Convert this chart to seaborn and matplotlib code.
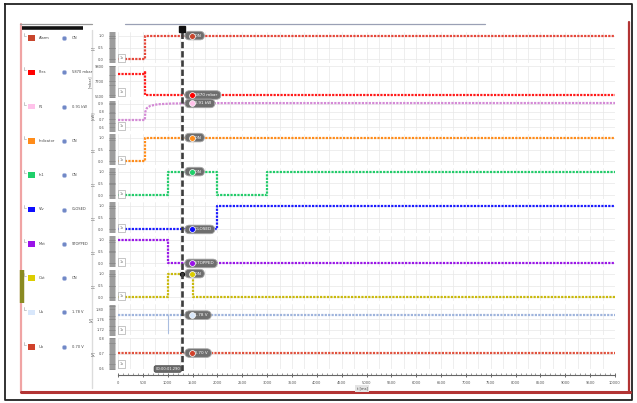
import numpy as np
import matplotlib
matplotlib.use("Agg")
import matplotlib.pyplot as plt
import matplotlib.transforms as mtransforms
from matplotlib.ticker import MultipleLocator, FixedLocator
import seaborn as sns

sns.set_theme(style="white")
plt.rcParams["font.family"] = ["DejaVu Sans"]

# ---- channel data (time in ms) ----
channel_names = ["Alarm", "Pres", "P1", "Indicator", "In1", "Vlv", "Mot", "Out", "Ua", "Ub"]
channel_units = ["[-]", "[mbar]", "[kW]", "[-]", "[-]", "[-]", "[-]", "[-]", "[V]", "[V]"]
line_colors = ["#e5473a", "#ff1a1a", "#d48ad6", "#ff8c1a", "#22cc6a",
               "#1a1aff", "#9a16e8", "#c9b90c", "#9fb4dc", "#e0513d"]
swatch_colors = ["#c8452c", "#ff0000", "#ffc2ea", "#ff8c1a", "#1fcf6a",
                 "#0d0dff", "#9a12e8", "#dccd00", "#d8e7fb", "#d0412b"]

t_alarm = [0, 550, 10000];               v_alarm = [0, 1, 1]
t_pres = [0, 545, 550, 10000];           v_pres = [8720, 9100, 5870, 5870]
t_power = [0, 540, 550, 580, 650, 800, 1100, 2000, 10000]
v_power = [0.692, 0.692, 0.80, 0.845, 0.875, 0.895, 0.905, 0.910, 0.911]
t_ind = [0, 550, 10000];                 v_ind = [0, 1, 1]
t_in1 = [0, 1000, 2000, 3000, 10000];    v_in1 = [0, 1, 0, 1, 1]
t_vlv = [0, 2000, 10000];                v_vlv = [0, 1, 1]
t_mot = [0, 1000, 10000];                v_mot = [1, 0, 0]
t_out = [0, 1000, 1500, 10000];          v_out = [0, 1, 0, 0]
t_ua = [0, 10000];                       v_ua = [1.777, 1.777]
t_ua_glitch = [1000, 1000];              v_ua_glitch = [1.777, 1.708]
t_ub = [0, 10000];                       v_ub = [0.703, 0.703]

times = [t_alarm, t_pres, t_power, t_ind, t_in1, t_vlv, t_mot, t_out, t_ua, t_ub]
values = [v_alarm, v_pres, v_power, v_ind, v_in1, v_vlv, v_mot, v_out, v_ua, v_ub]
stepped = [True, True, False, True, True, True, True, True, True, True]

binary_lim = (-0.15, 1.15)
y_limits = [binary_lim, (5600, 9800), (0.55, 0.95), binary_lim, binary_lim,
            binary_lim, binary_lim, binary_lim, (1.70, 1.82), (0.60, 0.80)]
y_ticks = [[0, 0.5, 1], [5600, 7700, 9800], [0.6, 0.7, 0.8, 0.9], [0, 0.5, 1],
           [0, 0.5, 1], [0, 0.5, 1], [0, 0.5, 1], [0, 0.5, 1],
           [1.72, 1.76, 1.80], [0.6, 0.7, 0.8]]
y_fmt = ["{:.1f}", "{:.0f}", "{:.1f}", "{:.1f}", "{:.1f}", "{:.1f}", "{:.1f}",
         "{:.1f}", "{:.2f}", "{:.1f}"]
state_text = {0: ("OFF", "ON"), 3: ("OFF", "ON"), 4: ("OFF", "ON"),
              5: ("CLOSED", "OPEN"), 6: ("STOPPED", "RUN"), 7: ("OFF", "ON")}

cursor_t = 1290
x_ticks = list(range(0, 10001, 500))
x_min, x_max = 0, 10000

# ---- figure layout in pixels ----
W, H = 637, 403
fig = plt.figure(figsize=(W / 100, H / 100), dpi=100)
fig.patch.set_facecolor("white")

bg = fig.add_axes([0, 0, 1, 1], zorder=-5)
bg.set_xlim(0, W)
bg.set_ylim(H, 0)
bg.axis("off")

# frame and panel borders
bg.plot([5, 632, 632, 5, 5], [4, 4, 400, 400, 4], color="#222222", lw=1.3)
bg.plot([21, 21], [24, 392], color="#f0a4a4", lw=1.6)
bg.plot([21, 630], [392, 392], color="#b23434", lw=2.2)
bg.plot([629, 629], [22, 392], color="#b23434", lw=1.6)
bg.plot([20, 92], [24, 24], color="#9a9a9a", lw=0.9)
bg.plot([22, 83], [27.5, 27.5], color="#111111", lw=2.6, solid_capstyle="butt")
bg.plot([125, 485], [24, 24], color="#9aa0b5", lw=0.9)
bg.plot([92, 92], [30, 388], color="#dcdcdc", lw=1.0)
# selection marker beside the highlighted channel
bg.plot([22, 22], [270, 303], color="#8a8a22", lw=3.2, solid_capstyle="butt")

# cursor readouts
fmt_vals = []
for i in range(len(channel_names)):
    t = np.asarray(times[i]); v = np.asarray(values[i])
    if stepped[i]:
        val = v[np.searchsorted(t, cursor_t, side="right") - 1]
    else:
        val = float(np.interp(cursor_t, t, v))
    if i in state_text:
        txt = state_text[i][int(round(val))]
    elif i == 1:
        txt = f"{val:.0f} mbar"
    elif i == 2:
        txt = f"{val:.2f} kW"
    else:
        txt = f"{val:.2f} V"
    fmt_vals.append((val, txt))

# legend panel
for i, name in enumerate(channel_names):
    yc = 38 + 34.3 * i
    bg.plot([24, 24, 26], [yc - 5, yc - 2, yc - 2], color="#b0b0b0", lw=0.5)
    bg.add_patch(plt.Rectangle((28, yc - 2.8), 7, 5.6, color=swatch_colors[i], lw=0))
    bg.text(39, yc, name, fontsize=2.6, color="#444444", va="center", ha="left")
    bg.plot([64], [yc], marker="o", ms=3.2, color="#7188c6", mec="#b8c4e6", mew=0.4)
    bg.text(72, yc, fmt_vals[i][1], fontsize=2.6, color="#444444", va="center", ha="left")

# ---- signal lanes ----
x0, x1 = 118, 615
lane_top, lane_pitch, lane_h = 32, 34, 31
lanes = []
for i in range(len(channel_names)):
    top = lane_top + lane_pitch * i
    ax = fig.add_axes([x0 / W, 1 - (top + lane_h) / H, (x1 - x0) / W, lane_h / H])
    lanes.append(ax)
    ax.set_facecolor("white")
    kw = dict(drawstyle="steps-post") if stepped[i] else {}
    sns.lineplot(x=times[i], y=values[i], ax=ax, color=line_colors[i],
                 estimator=None, sort=False, linewidth=1.6,
                 linestyle=(0, (1.0, 0.55)), **kw)
    if i == 8:
        sns.lineplot(x=t_ua_glitch, y=v_ua_glitch, ax=ax, color="#a9bde0",
                     estimator=None, sort=False, linewidth=0.8)
    ax.set_xlim(x_min, x_max)
    ax.set_ylim(*y_limits[i])
    ax.xaxis.set_major_locator(MultipleLocator(250))
    ax.tick_params(axis="x", length=0, labelbottom=False, bottom=False)
    ax.yaxis.set_major_locator(FixedLocator(y_ticks[i]))
    ax.set_yticklabels([y_fmt[i].format(v) for v in y_ticks[i]])
    span = y_limits[i][1] - y_limits[i][0]
    ax.yaxis.set_minor_locator(MultipleLocator(span / 34))
    ax.tick_params(axis="y", which="major", left=True, labelsize=2.6,
                   labelcolor="#555555", length=4, width=0.6, color="#7a7a7a",
                   pad=3.5, direction="out")
    ax.tick_params(axis="y", which="minor", left=True, length=4, width=0.6,
                   color="#8a8a8a", direction="out")
    ax.grid(True, which="major", color="#e8e8e8", lw=0.5)
    for s in ("top", "right", "bottom"):
        ax.spines[s].set_visible(False)
    ax.spines["left"].set_position(("outward", 2.5))
    ax.spines["left"].set_visible(False)
    ax.set_xlabel("")
    ax.set_ylabel(channel_units[i], fontsize=2.6, color="#555555", labelpad=2)
    ax.text(0.003, 0.1, "1x", transform=ax.transAxes, fontsize=2.4, color="#666666",
            ha="left", va="bottom",
            bbox=dict(boxstyle="square,pad=0.5", fc="white", ec="#9a9a9a", lw=0.4))

    # value readout next to the cursor
    val, txt = fmt_vals[i]
    box_tr = mtransforms.offset_copy(ax.transData, fig=fig, x=5, y=0, units="dots")
    ax.text(cursor_t, val, "      " + txt + " ", transform=box_tr, fontsize=3.0,
            color="white", ha="left", va="center", zorder=8, clip_on=False,
            bbox=dict(boxstyle="round,pad=0.55,rounding_size=1.1", fc="#6e6e6e",
                      ec="#a8a8a8", lw=0.6))
    dot_tr = mtransforms.offset_copy(ax.transData, fig=fig, x=9.5, y=0, units="dots")
    ax.plot([cursor_t], [val], marker="o", ms=4.2, color=swatch_colors[i],
            mec="white", mew=0.5, transform=dot_tr, zorder=9, clip_on=False)

# snap point of the cursor on the output lane
v_out_at_cursor = v_out[np.searchsorted(t_out, cursor_t, side="right") - 1]
lanes[7].plot([cursor_t], [v_out_at_cursor], marker="o", ms=2.8, color="#111111",
              zorder=9, clip_on=False)

# ---- time ruler ----
ruler = fig.add_axes([x0 / W, 1 - 375 / H, (x1 - x0) / W, 5 / H])
ruler.set_xlim(x_min, x_max)
ruler.set_facecolor("none")
ruler.set_yticks([])
for s in ("top", "right", "left"):
    ruler.spines[s].set_visible(False)
ruler.spines["bottom"].set_color("#666666")
ruler.spines["bottom"].set_linewidth(0.8)
ruler.xaxis.set_major_locator(FixedLocator(x_ticks))
ruler.set_xticklabels([str(t) for t in x_ticks])
ruler.xaxis.set_minor_locator(MultipleLocator(100))
ruler.tick_params(axis="x", which="major", bottom=True, length=3.4, width=0.6,
                  color="#555555", direction="inout", labelsize=2.6,
                  labelcolor="#555555", pad=2.5)
ruler.tick_params(axis="x", which="minor", bottom=True, length=1.8, width=0.5,
                  color="#777777", direction="in")
fig.text(362 / W, 1 - 388.5 / H, "t [ms]", fontsize=2.6, color="#444444",
         ha="center", va="center",
         bbox=dict(boxstyle="square,pad=0.3", fc="#e4e4e4", ec="none"))

# ---- cursor ----
cur = fig.add_axes([x0 / W, 1 - 371 / H, (x1 - x0) / W, (371 - 29) / H], zorder=6)
cur.set_xlim(x_min, x_max)
cur.set_ylim(0, 1)
cur.axis("off")
cur.axvline(cursor_t, color="#3c3c3c", lw=1.9, ls=(0, (2.4, 1.1)))
cur.plot([cursor_t], [1.0], marker="s", ms=4.4, color="#111111", clip_on=False)
cur_tr = mtransforms.offset_copy(cur.transData, fig=fig, x=-2, y=0, units="dots")
cur.text(cursor_t, 0.0, "00:00:01.290", transform=cur_tr, fontsize=2.6, color="white",
         ha="right", va="bottom", clip_on=False,
         bbox=dict(boxstyle="round,pad=0.35,rounding_size=0.5", fc="#6b6b6b",
                   ec="#3d3d3d", lw=0.5))

fig.savefig("out.png", dpi=100, facecolor="white")
